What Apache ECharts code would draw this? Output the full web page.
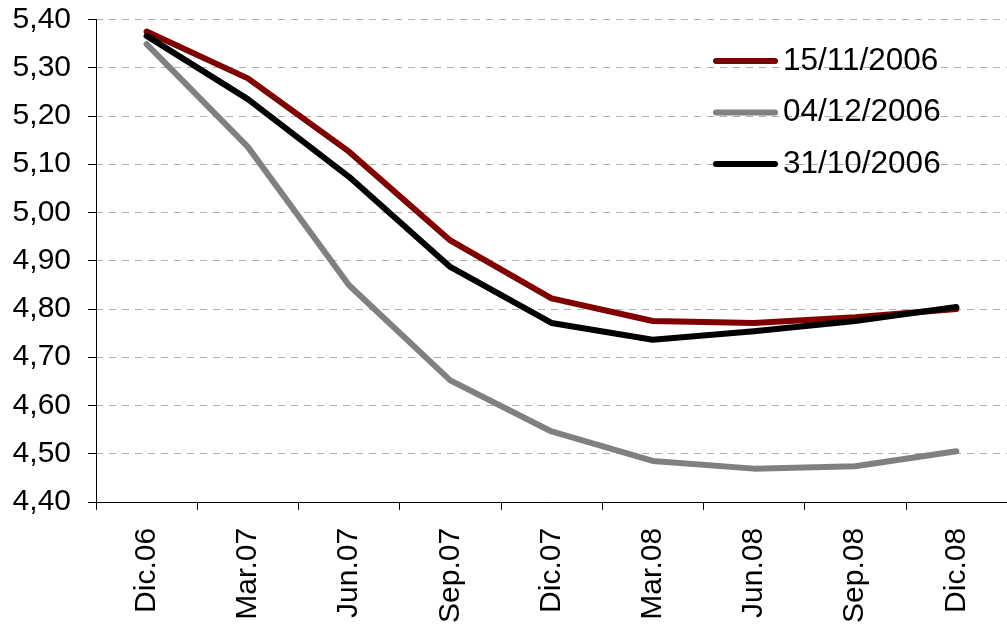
<!DOCTYPE html>
<html>
<head>
<meta charset="utf-8">
<script src="https://cdn.jsdelivr.net/npm/echarts@6/dist/echarts.min.js"></script>
<style>html,body{margin:0;padding:0;background:#fff;}#c{width:1007px;height:626px;}</style>
</head>
<body>
<div id="c"></div>
<script>
const categories = ['Dic.06','Mar.07','Jun.07','Sep.07','Dic.07','Mar.08','Jun.08','Sep.08','Dic.08'];
const s15nov = [5.375, 5.278, 5.126, 4.942, 4.822, 4.775, 4.771, 4.783, 4.800];
const s04dic = [5.349, 5.136, 4.849, 4.652, 4.546, 4.485, 4.469, 4.474, 4.505];
const s31oct = [5.366, 5.235, 5.074, 4.887, 4.771, 4.736, 4.754, 4.775, 4.804];
const seriesNames = ['15/11/2006', '04/12/2006', '31/10/2006'];

const font = 'Liberation Sans, Arial, sans-serif';
const chart = echarts.init(document.getElementById('c'), null, {renderer: 'canvas'});
function mk(name, data, color) {
  return {
    name: name, type: 'line', data: data, symbol: 'none', showSymbol: false,
    lineStyle: {color: color, width: 6, cap: 'round', join: 'round'},
    itemStyle: {color: color},
    animation: false
  };
}
chart.setOption({
  animation: false,
  backgroundColor: '#ffffff',
  grid: {left: 96, top: 19.5, bottom: 124, right: -10.6},
  legend: {
    orient: 'vertical', left: 708, top: 40, itemWidth: 65, itemHeight: 6, itemGap: 19.5,
    icon: 'path://M3,0 L62,0 A3,3 0 0 1 62,6 L3,6 A3,3 0 0 1 3,0 Z',
    textStyle: {fontFamily: font, fontSize: 31.5, color: '#000', lineHeight: 30, padding: [0,0,0,0]},
    data: seriesNames
  },
  xAxis: {
    type: 'category', data: categories, boundaryGap: true,
    axisLine: {lineStyle: {color: '#000', width: 1}},
    axisTick: {show: true, length: 8, lineStyle: {color: '#000'}, alignWithLabel: false},
    axisLabel: {rotate: 90, margin: 26, fontFamily: font, fontSize: 30, color: '#000', interval: 0}
  },
  yAxis: {
    type: 'value', min: 4.4, max: 5.4, interval: 0.1,
    axisLine: {show: true, lineStyle: {color: '#000', width: 1}},
    axisTick: {show: true, length: 8, lineStyle: {color: '#000'}},
    axisLabel: {margin: 25, fontFamily: font, fontSize: 30, color: '#000',
      formatter: v => v.toFixed(2).replace('.', ',')},
    splitLine: {show: true, lineStyle: {color: '#b0b0b0', width: 1, type: [7, 6]}}
  },
  series: [
    mk(seriesNames[0], s15nov, '#800000'),
    mk(seriesNames[1], s04dic, '#808080'),
    mk(seriesNames[2], s31oct, '#000000')
  ]
});
</script>
</body>
</html>
